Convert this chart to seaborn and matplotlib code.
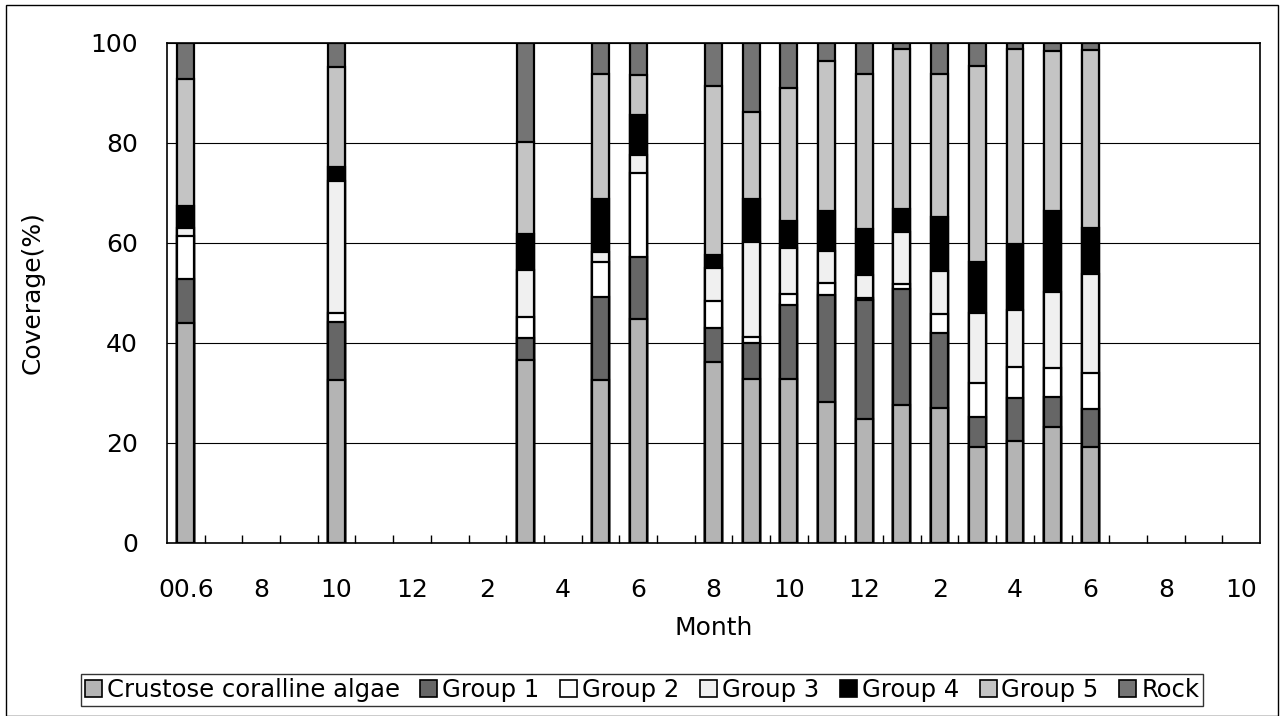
import numpy as np
import pandas as pd
import seaborn as sns
import matplotlib.pyplot as plt
from matplotlib.patches import Patch, Rectangle

# every month on the axis, 2000.6 .. 2002.10
all_months = ['2000.06', '2000.07', '2000.08', '2000.09', '2000.10', '2000.11',
              '2000.12', '2001.01', '2001.02', '2001.03', '2001.04', '2001.05',
              '2001.06', '2001.07', '2001.08', '2001.09', '2001.10', '2001.11',
              '2001.12', '2002.01', '2002.02', '2002.03', '2002.04', '2002.05',
              '2002.06', '2002.07', '2002.08', '2002.09', '2002.10']
tick_labels = ['00.6', '8', '10', '12', '2', '4', '6', '8', '10', '12',
               '2', '4', '6', '8', '10']

# sampled months and coverage (%) per group, bottom to top
months = ['2000.06', '2000.10', '2001.03', '2001.05', '2001.06', '2001.08',
          '2001.09', '2001.10', '2001.11', '2001.12', '2002.01', '2002.02',
          '2002.03', '2002.04', '2002.05', '2002.06']
cca = [44.0, 32.7, 36.6, 32.6, 44.8, 36.3, 32.8, 32.8, 28.2, 24.9, 27.6, 27.1,
       19.2, 20.5, 23.2, 19.2]
group1 = [8.8, 11.5, 4.4, 16.6, 12.5, 6.7, 7.3, 14.9, 21.5, 23.7, 23.3, 15.0,
          6.0, 8.5, 6.0, 7.7]
group2 = [8.6, 1.8, 4.2, 7.1, 16.7, 5.4, 1.2, 2.2, 2.4, 0.5, 0.9, 3.7,
          6.9, 6.3, 5.8, 7.2]
group3 = [1.6, 26.5, 9.4, 2.0, 3.6, 6.7, 18.9, 9.2, 6.4, 4.5, 10.5, 8.6,
          13.9, 11.4, 15.2, 19.7]
group4 = [4.4, 2.8, 7.2, 10.5, 8.1, 2.5, 8.7, 5.4, 8.0, 9.3, 4.6, 10.8,
          10.3, 13.1, 16.2, 9.2]
group5 = [25.5, 20.0, 18.3, 24.9, 7.9, 33.7, 17.3, 26.6, 30.0, 30.9, 31.9, 28.7,
          39.2, 39.0, 31.9, 35.6]
rock = [7.1, 4.7, 19.9, 6.3, 6.4, 8.7, 13.8, 8.9, 3.5, 6.2, 1.2, 6.1,
        4.5, 1.2, 1.7, 1.4]

groups = ['Crustose coralline algae', 'Group 1', 'Group 2', 'Group 3',
          'Group 4', 'Group 5', 'Rock']
colors = ['#b4b4b4', '#666666', '#ffffff', '#f0f0f0', '#000000', '#c4c4c4', '#747474']

df = pd.DataFrame({'month': months})
for name, vals in zip(groups, [cca, group1, group2, group3, group4, group5, rock]):
    df[name] = vals
tops = df[groups].cumsum(axis=1)
tops['month'] = df['month']

sns.set_theme(style='white')
plt.rcParams['font.family'] = ['DejaVu Sans']
plt.rcParams.update({'text.color': 'black', 'axes.labelcolor': 'black',
                     'xtick.color': 'black', 'ytick.color': 'black'})

fig = plt.figure(figsize=(12.81, 7.16), dpi=100)
ax = fig.add_axes([167 / 1281, 1 - 543 / 716, (1260 - 167) / 1281, 500 / 716])

# stacked bars: draw the cumulative tops from highest layer down
for name, col in reversed(list(zip(groups, colors))):
    sns.barplot(data=tops, x='month', y=name, order=all_months, color=col,
                edgecolor='black', linewidth=1.6, width=0.45, saturation=1,
                ax=ax, zorder=3)

ax.set_ylim(0, 100)
ax.set_xlim(-0.5, len(all_months) - 0.5)
ax.set_yticks(np.arange(0, 101, 20))
ax.yaxis.grid(True, color='black', linewidth=0.8, zorder=0)
ax.set_axisbelow(True)
ax.set_xticks(np.arange(0, len(all_months), 2))
ax.set_xticklabels(tick_labels)
ax.set_xticks(np.arange(0.5, len(all_months) - 1, 1), minor=True)
ax.tick_params(axis='x', which='major', length=0, pad=25, labelsize=18)
ax.tick_params(axis='x', which='minor', direction='in', length=6, width=1,
               color='black', bottom=True)
ax.tick_params(axis='y', length=0, pad=21, labelsize=18)
for s in ax.spines.values():
    s.set_color('black')
    s.set_linewidth(1.2)

ax.set_xlabel('Month', fontsize=18, labelpad=10)
ax.set_ylabel('Coverage(%)', fontsize=18, labelpad=33)

handles = [Patch(facecolor=c, edgecolor='black', linewidth=1.2) for c in colors]
leg = fig.legend(handles, groups, loc='center', bbox_to_anchor=(642 / 1281, 1 - 690 / 716),
                 ncol=7, fontsize=17.5, frameon=True, fancybox=False,
                 handlelength=0.7, handleheight=0.7, handletextpad=0.2,
                 columnspacing=0.85, borderpad=0.15, borderaxespad=0)
leg.get_frame().set_edgecolor('black')
leg.get_frame().set_linewidth(1.0)

fig.patches.append(Rectangle((6 / 1281, 0), 1272 / 1281, 1 - 5 / 716,
                             transform=fig.transFigure, fill=False,
                             edgecolor='black', linewidth=1.0))

fig.savefig('out.png', dpi=100)
